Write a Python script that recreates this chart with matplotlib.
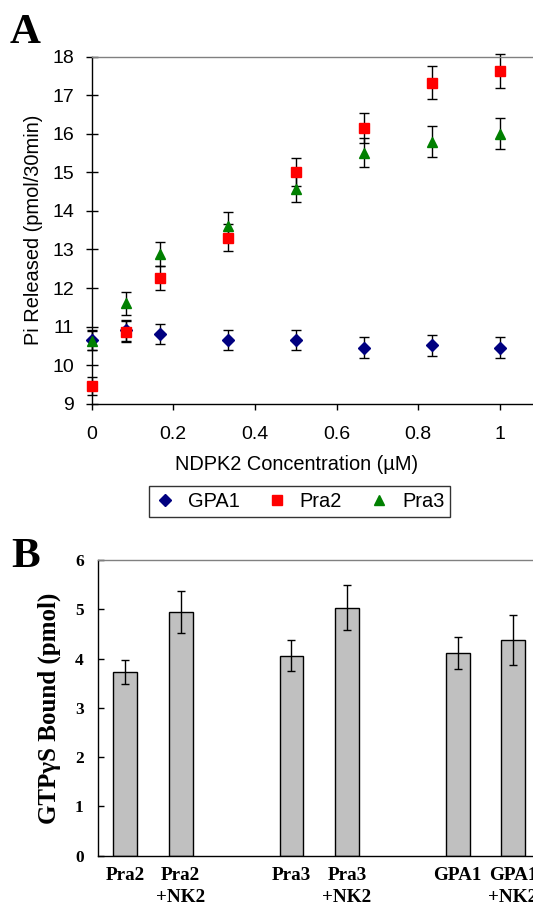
import numpy as np
import matplotlib
matplotlib.use("Agg")
import matplotlib.pyplot as plt
from matplotlib.ticker import FormatStrFormatter

# ---- panel A data ----
conc = [0, 1/12, 1/6, 1/3, 1/2, 2/3, 5/6, 1]
gpa1 = [10.65, 10.9, 10.82, 10.65, 10.65, 10.45, 10.52, 10.45]
gpa1_err = [0.27, 0.27, 0.26, 0.27, 0.27, 0.27, 0.27, 0.27]
pra2 = [9.45, 10.87, 12.27, 13.3, 15.0, 16.15, 17.32, 17.63]
pra2_err = [0.23, 0.28, 0.31, 0.35, 0.36, 0.39, 0.43, 0.45]
pra3 = [10.63, 11.6, 12.88, 13.62, 14.58, 15.51, 15.79, 16.0]
pra3_err = [0.25, 0.3, 0.32, 0.35, 0.35, 0.38, 0.4, 0.4]

# ---- panel B data ----
categories = ["Pra2", "Pra2\n+NK2", "", "Pra3", "Pra3\n+NK2", "", "GPA1", "GPA1\n+NK2", ""]
bound = [3.73, 4.94, None, 4.06, 5.03, None, 4.11, 4.38, None]
bound_err = [0.24, 0.43, None, 0.31, 0.46, None, 0.32, 0.51, None]
b_ticks = [0, 1, 2, 3, 4, 5, 6]

sans = "Liberation Sans"
serif = "Liberation Serif"

fig = plt.figure(figsize=(5.33, 9.06), dpi=100)

# ===== Panel A =====
axA = fig.add_axes([91.7 / 533, 1 - 403.7 / 906, 489.6 / 533, 347.0 / 906])
eb = dict(fmt="none", ecolor="black", elinewidth=1, capsize=3.5, capthick=1, clip_on=False, zorder=2)
axA.errorbar(conc, gpa1, yerr=gpa1_err, **eb)
axA.errorbar(conc, pra2, yerr=pra2_err, **eb)
axA.errorbar(conc, pra3, yerr=pra3_err, **eb)
h1, = axA.plot(conc, gpa1, ls="none", marker="D", ms=6.5, color="#000080", label="GPA1", clip_on=False, zorder=3)
h2, = axA.plot(conc, pra2, ls="none", marker="s", ms=7, color="#ff0000", label="Pra2", clip_on=False, zorder=3)
h3, = axA.plot(conc, pra3, ls="none", marker="^", ms=7.5, color="#008000", label="Pra3", clip_on=False, zorder=3)

axA.set_xlim(0, 1.2)
axA.set_ylim(9, 18)
axA.set_xticks([0, 0.2, 0.4, 0.6, 0.8, 1.0])
axA.xaxis.set_major_formatter(FormatStrFormatter("%g"))
axA.set_yticks(range(9, 19))
axA.tick_params(axis="y", direction="inout", length=8.4, width=1, pad=8.4, labelsize=14)
axA.tick_params(axis="x", direction="out", length=4, width=1, pad=12, labelsize=14)
for lab in axA.get_xticklabels() + axA.get_yticklabels():
    lab.set_family(sans)
for s in ["left", "bottom"]:
    axA.spines[s].set_color("black")
    axA.spines[s].set_linewidth(1)
axA.spines["top"].set_color("#808080")
axA.spines["top"].set_linewidth(1)
axA.spines["right"].set_visible(False)

axA.set_xlabel("NDPK2 Concentration (µM)", fontsize=14.4, family=sans)
axA.xaxis.set_label_coords((296.6 - 91.7) / 489.6, 1 - (465 - 56.7) / 347.0)
axA.xaxis.label.set_va("center")
axA.set_ylabel("Pi Released (pmol/30min)", fontsize=14.4, family=sans)
axA.yaxis.set_label_coords(-(91.7 - 34) / 489.6, 0.5)
axA.yaxis.label.set_va("center")

leg = fig.legend(handles=[h1, h2, h3], loc="center", bbox_to_anchor=(299.6 / 533, 1 - 501.7 / 906),
                 ncol=3, numpoints=1, frameon=True, fancybox=False, handlelength=1.0,
                 handletextpad=0.65, columnspacing=1.35, borderpad=0.3,
                 prop={"family": sans, "size": 14.4})
leg.get_frame().set_edgecolor("black")
leg.get_frame().set_linewidth(1)

# ===== Panel B =====
axB = fig.add_axes([97.6 / 533, 1 - 855.7 / 906, 9 * 55.4 / 533, 295.7 / 906])
idx = [i for i, v in enumerate(bound) if v is not None]
axB.bar(idx, [bound[i] for i in idx], width=0.43, color="#c0c0c0", edgecolor="black", linewidth=1, zorder=2)
axB.errorbar(idx, [bound[i] for i in idx], yerr=[bound_err[i] for i in idx], fmt="none",
             ecolor="black", elinewidth=1, capsize=2.9, capthick=1, zorder=3)
axB.set_xlim(-0.5, len(categories) - 0.5)
axB.set_ylim(0, 6)
axB.set_xticks(idx)
axB.set_xticklabels([categories[i] for i in idx], family=serif, fontweight="bold", fontsize=13.8,
                    linespacing=1.4)
axB.set_yticks(b_ticks)
axB.set_yticklabels([str(t) for t in b_ticks], family=serif, fontweight="bold", fontsize=12.5)
axB.tick_params(axis="x", length=0, pad=8)
axB.tick_params(axis="y", direction="in", length=4, width=1, pad=10)
for s in ["left", "bottom"]:
    axB.spines[s].set_color("black")
    axB.spines[s].set_linewidth(1)
axB.spines["top"].set_color("#808080")
axB.spines["top"].set_linewidth(1)
axB.spines["right"].set_visible(False)
axB.set_ylabel("GTPγS Bound (pmol)", fontsize=18, family=serif, fontweight="bold")
axB.yaxis.set_label_coords(-(97.6 - 49.3) / (9 * 55.4), 0.5)
axB.yaxis.label.set_va("center")

# panel letters
fig.text(10 / 533, 1 - 43.3 / 906, "A", family=serif, fontweight="bold", fontsize=31, va="baseline", ha="left")
fig.text(11 / 533, 1 - 566.7 / 906, "B", family=serif, fontweight="bold", fontsize=31, va="baseline", ha="left")

fig.savefig("out.png", dpi=100)
